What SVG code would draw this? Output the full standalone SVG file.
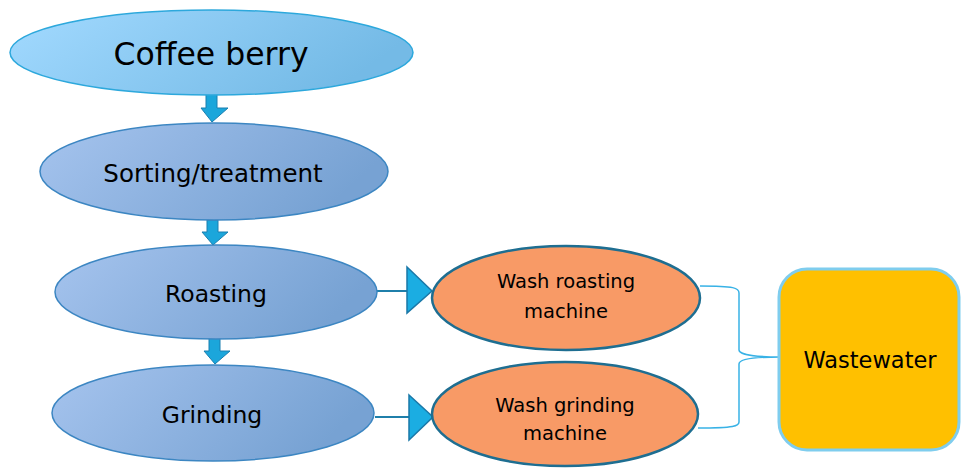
<svg xmlns="http://www.w3.org/2000/svg" width="961" height="468" viewBox="0 0 961 468">
<defs>
<linearGradient id="gTop" x1="0" y1="0" x2="1" y2="0.3">
<stop offset="0" stop-color="#A3DAFF"/>
<stop offset="1" stop-color="#74BAE6"/>
</linearGradient>
<linearGradient id="gStep" x1="0" y1="0" x2="1" y2="0.3">
<stop offset="0" stop-color="#A6C4EE"/>
<stop offset="1" stop-color="#77A2D3"/>
</linearGradient>
<style>
.txt{font-family:"DejaVu Sans","Liberation Sans",Arial,sans-serif;fill:#000;text-anchor:middle}
.top{fill:url(#gTop);stroke:#2DA8DC;stroke-width:1.5}
.step{fill:url(#gStep);stroke:#3C86C2;stroke-width:1.5}
.wash{fill:#F89A66;stroke:#1E6E91;stroke-width:2.5}
.down{fill:#1BA6DB;stroke:#1A7FB0;stroke-width:1}
.tri{fill:#1BADE2;stroke:#1A78A8;stroke-width:1.5}
.line{stroke:#1F7FAA;stroke-width:2;fill:none}
.brace{stroke:#38B2E6;stroke-width:1.5;fill:none}
</style>
</defs>
<g id="connectors">
<path class="down" d="M206,94 H217 V108 H228 L212,122 L201,108 H206 Z"/>
<path class="down" d="M207,220 H218 V232 H228 L213,245 L202,232 H207 Z"/>
<path class="down" d="M209,338 H220 V351 H230 L215,364 L204,351 H209 Z"/>
<line class="line" x1="377" y1="291" x2="407" y2="291"/>
<path class="tri" d="M407,267 L432,291 L407,313 Z"/>
<line class="line" x1="375" y1="417" x2="409" y2="417"/>
<path class="tri" d="M409,395 L433,417 L409,440 Z"/>
<path class="brace" d="M700,286 C735,286 739,288 739,293 V350 C739,355 760,357 780,357 C760,357 739,358 739,364 V422 C739,426 735,428 698,428"/>
</g>
<g id="coffee-berry">
<ellipse class="top" cx="211.5" cy="52.5" rx="201.5" ry="42.5"/>
<text class="txt" x="211" y="65" font-size="31.5">Coffee berry</text>
</g>
<g id="sorting">
<ellipse class="step" cx="214" cy="171.5" rx="174" ry="48.5"/>
<text class="txt" x="213" y="182" font-size="24.5">Sorting/treatment</text>
</g>
<g id="roasting">
<ellipse class="step" cx="216" cy="292" rx="161" ry="47"/>
<text class="txt" x="216" y="302" font-size="23.5">Roasting</text>
</g>
<g id="grinding">
<ellipse class="step" cx="213" cy="413" rx="161" ry="48"/>
<text class="txt" x="212" y="423" font-size="23.5">Grinding</text>
</g>
<g id="wash-roasting">
<ellipse class="wash" cx="566" cy="298" rx="134" ry="52"/>
<text class="txt" x="566" y="288" font-size="19.5">Wash roasting</text>
<text class="txt" x="566" y="318" font-size="19.5">machine</text>
</g>
<g id="wash-grinding">
<ellipse class="wash" cx="565" cy="414" rx="133" ry="52"/>
<text class="txt" x="565" y="412" font-size="19.5">Wash grinding</text>
<text class="txt" x="565" y="440" font-size="19.5">machine</text>
</g>
<g id="wastewater">
<rect x="779" y="269" width="180" height="181" rx="28" ry="28" fill="#FFC000" stroke="#7FCDEE" stroke-width="3"/>
<text class="txt" x="870" y="368" font-size="22.5">Wastewater</text>
</g>
</svg>
